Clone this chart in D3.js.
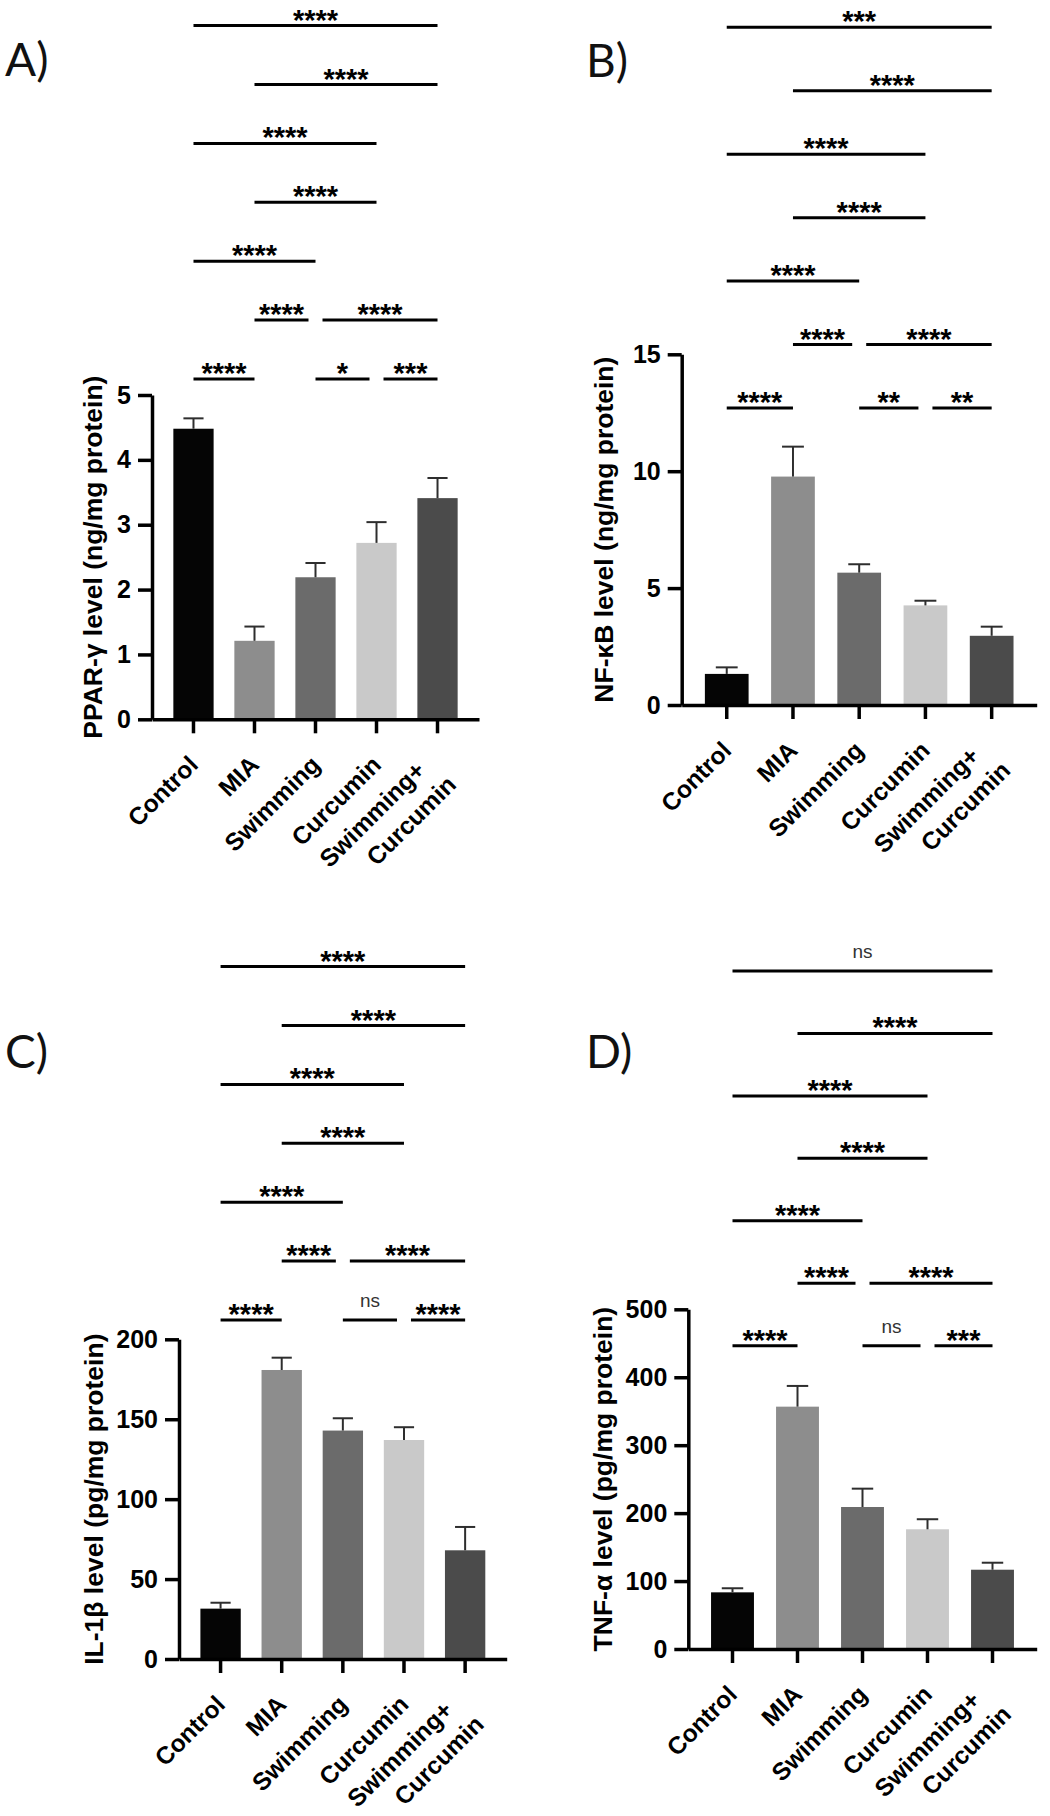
<!DOCTYPE html>
<html>
<head>
<meta charset="utf-8">
<script src="https://cdn.jsdelivr.net/npm/d3@7/dist/d3.min.js"></script>
<style>
  html, body { margin: 0; padding: 0; background: #fff; }
  svg { display: block; }
</style>
</head>
<body>
<svg id="chart" width="1050" height="1816"></svg>
<script>
// ---------------- DATA ----------------
const groups = ["Control", "MIA", "Swimming", "Curcumin", "Swimming+\nCurcumin"];

const pparMean = [4.48, 1.21, 2.19, 2.72, 3.41];
const pparSem  = [0.16, 0.22, 0.22, 0.32, 0.31];

const nfkbMean = [1.33, 9.77, 5.66, 4.26, 2.96];
const nfkbSem  = [0.28, 1.28, 0.36, 0.20, 0.39];

const il1bMean = [31.5, 180.8, 142.9, 137.0, 68.0];
const il1bSem  = [3.7, 7.7, 7.7, 8.0, 14.6];

const tnfMean  = [83.4, 356.7, 209.0, 176.2, 116.7];
const tnfSem   = [6.0, 30.5, 27.0, 14.8, 10.3];

const pparTicks = [0, 1, 2, 3, 4, 5];
const nfkbTicks = [0, 5, 10, 15];
const il1bTicks = [0, 50, 100, 150, 200];
const tnfTicks  = [0, 100, 200, 300, 400, 500];

// pairwise comparisons (group indices) and their stacking tier
const comparisons = [[0,4],[1,4],[0,3],[1,3],[0,2],[1,2],[2,4],[0,1],[2,3],[3,4]];
const compTier    = [6, 5, 4, 3, 2, 1, 1, 0, 0, 0];
const pparSig = ["****","****","****","****","****","****","****","****","*","***"];
const nfkbSig = ["***","****","****","****","****","****","****","****","**","**"];
const il1bSig = ["****","****","****","****","****","****","****","****","ns","****"];
const tnfSig  = ["ns","****","****","****","****","****","****","****","ns","***"];

const barColors = ["#050505", "#8d8d8d", "#6b6b6b", "#c9c9c9", "#4b4b4b"];

// ---------------- LAYOUT ----------------
const panels = [
  { tag: "A)", title: "PPAR-\u03b3 level (ng/mg protein)", mean: pparMean, sem: pparSem, ticks: pparTicks, sig: pparSig,
    left: 152, right: 479, top: 395, bottom: 719.3, tier0: 379, tierStep: 58.9, titleX: 102, tagX: 5, tagY: 76 },
  { tag: "B)", title: "NF-\u03baB level (ng/mg protein)", mean: nfkbMean, sem: nfkbSem, ticks: nfkbTicks, sig: nfkbSig,
    left: 681.7, right: 1036.7, top: 354.3, bottom: 705, tier0: 408, tierStep: 63.45, titleX: 613, tagX: 586, tagY: 77 },
  { tag: "C)", title: "IL-1\u03b2 level (pg/mg protein)", mean: il1bMean, sem: il1bSem, ticks: il1bTicks, sig: il1bSig,
    left: 179, right: 506.7, top: 1339.3, bottom: 1659, tier0: 1320, tierStep: 58.9, titleX: 103, tagX: 5, tagY: 1068 },
  { tag: "D)", title: "TNF-\u03b1 level (pg/mg protein)", mean: tnfMean, sem: tnfSem, ticks: tnfTicks, sig: tnfSig,
    left: 688.3, right: 1036.7, top: 1309.3, bottom: 1649, tier0: 1345.7, tierStep: 62.45, titleX: 612, tagX: 586, tagY: 1068 }
];
// offsets (along text, across text) of each line of a two-line rotated label
const twoLineOffsets = [[-16, -8], [-4, 24]];

const svg = d3.select("#chart");
const FONT = "'Liberation Sans', Arial, Helvetica, sans-serif";

panels.forEach(p => {
  const g = svg.append("g");
  const x = d3.scaleBand().domain(d3.range(groups.length)).range([p.left, p.right])
    .paddingInner(0.34).paddingOuter(0.35);
  const y = d3.scaleLinear().domain([0, d3.max(p.ticks)]).range([p.bottom, p.top]);

  // bars
  g.selectAll("rect.bar").data(p.mean).join("rect")
    .attr("class", "bar")
    .attr("x", (d, i) => x(i))
    .attr("width", x.bandwidth())
    .attr("y", d => y(d))
    .attr("height", d => y(0) - y(d))
    .attr("fill", (d, i) => barColors[i]);

  // error bars (upper only)
  const capW = x.bandwidth() * 0.5;
  p.mean.forEach((m, i) => {
    const cx = x(i) + x.bandwidth() / 2;
    g.append("line").attr("x1", cx).attr("x2", cx)
      .attr("y1", y(m)).attr("y2", y(m + p.sem[i]))
      .attr("stroke", "#2e2e2e").attr("stroke-width", 2);
    g.append("line").attr("x1", cx - capW / 2).attr("x2", cx + capW / 2)
      .attr("y1", y(m + p.sem[i])).attr("y2", y(m + p.sem[i]))
      .attr("stroke", "#2e2e2e").attr("stroke-width", 2);
  });

  // y axis
  const ya = g.append("g").attr("transform", `translate(${p.left},0)`)
    .call(d3.axisLeft(y).tickValues(p.ticks).tickSize(14).tickSizeOuter(0).tickPadding(7).tickFormat(d3.format("d")));
  ya.select(".domain").attr("stroke", "#000").attr("stroke-width", 3.5);
  ya.selectAll(".tick line").attr("stroke", "#000").attr("stroke-width", 3.5);
  ya.selectAll(".tick text").attr("font-family", FONT).attr("font-weight", "bold")
    .attr("font-size", 25).attr("fill", "#000");

  // x axis
  const xa = g.append("g").attr("transform", `translate(0,${p.bottom})`)
    .call(d3.axisBottom(x).tickSize(14).tickSizeOuter(0).tickFormat(""));
  xa.select(".domain").attr("stroke", "#000").attr("stroke-width", 3.5);
  xa.selectAll(".tick line").attr("stroke", "#000").attr("stroke-width", 3.5);

  // x labels rotated
  groups.forEach((name, i) => {
    const cx = x(i) + x.bandwidth() / 2;
    const lines = name.split("\n");
    const t = g.append("text")
      .attr("transform", `translate(${cx + 6},${p.bottom + 47}) rotate(-45)`)
      .attr("text-anchor", "end")
      .attr("font-family", FONT).attr("font-weight", "bold").attr("font-size", 24.5).attr("fill", "#000");
    lines.forEach((ln, k) => {
      const off = lines.length > 1 ? twoLineOffsets[k] : [0, 0];
      t.append("tspan").attr("x", off[0]).attr("y", off[1]).text(ln);
    });
  });

  // y title
  g.append("text")
    .attr("transform", `translate(${p.titleX},${(p.top + p.bottom) / 2}) rotate(-90)`)
    .attr("text-anchor", "middle")
    .attr("font-family", FONT).attr("font-weight", "bold").attr("font-size", 26.5).attr("fill", "#000")
    .text(p.title);

  // panel tag
  g.append("text").attr("x", p.tagX).attr("y", p.tagY)
    .attr("font-family", "Lato, 'Open Sans', sans-serif").attr("font-size", 46).attr("fill", "#111")
    .text(p.tag);

  // significance brackets
  const inset = 7;
  comparisons.forEach((c, k) => {
    const tier = compTier[k];
    const ly = p.tier0 - tier * p.tierStep;
    let x1 = x(c[0]) + x.bandwidth() / 2;
    let x2 = x(c[1]) + x.bandwidth() / 2;
    // shorten ends that touch a neighbour on the same tier
    comparisons.forEach((o, j) => {
      if (j === k || compTier[j] !== tier) return;
      if (o[1] === c[0]) x1 += inset;
      if (o[0] === c[1]) x2 -= inset;
    });
    g.append("line").attr("x1", x1).attr("x2", x2).attr("y1", ly).attr("y2", ly)
      .attr("stroke", "#000").attr("stroke-width", 3);
    const label = p.sig[k];
    const isNs = label === "ns";
    g.append("text")
      .attr("x", (x1 + x2) / 2)
      .attr("y", isNs ? ly - 13 : ly + 4)
      .attr("text-anchor", "middle")
      .attr("font-family", FONT)
      .attr("font-weight", isNs ? "normal" : "bold")
      .attr("font-size", isNs ? 19 : 29)
      .attr("fill", isNs ? "#333" : "#000")
      .text(label);
  });
});
</script>
</body>
</html>
